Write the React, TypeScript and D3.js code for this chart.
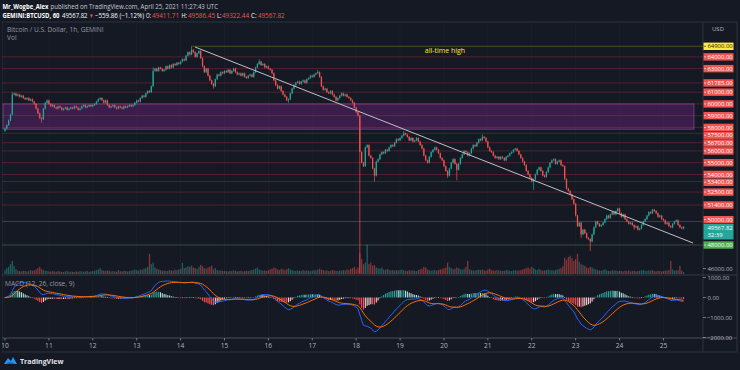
import React from "react";
import * as d3 from "d3";

const W = 740;
const H = 370;

// hourly closes, GEMINI:BTCUSD, from Apr 10 00:00 UTC to Apr 25 11:00 UTC
const closes: number[] = [
  57900, 58200, 58600, 59100, 60800, 60900, 60700, 60800, 60600, 60700, 60500, 60400,
  60500, 60300, 60400, 60200, 60000, 59600, 59200, 58800, 58700, 59600, 60100, 60300,
  60000, 59800, 59900, 59700, 59600, 59800, 59700, 59500, 59600, 59700, 59500, 59600,
  59700, 59600, 59800, 59700, 59500, 59600, 59800, 59900, 59700, 59800, 59900, 59800,
  59900, 60000, 60200, 60400, 60500, 60300, 60100, 60300, 59900, 59700, 59800, 59900,
  59700, 59600, 59800, 59700, 59600, 59800, 59700, 59800, 59900, 59800, 59900, 60100,
  60300, 60200, 60500, 60700, 60600, 60900, 61100, 61000, 61500, 62800, 63000, 62800,
  63100, 63000, 62800, 62900, 63200, 63000, 63300, 63100, 63400, 63300, 63500, 63400,
  63600, 63800, 63700, 64100, 64400, 64200, 64600, 64400, 64000, 64300, 64500, 63900,
  63200, 62700, 63000, 62400, 62000, 61700, 61500, 62100, 62500, 62400, 62700, 62600,
  62800, 62700, 62900, 62600, 62800, 63000, 62700, 62500, 62600, 62400, 62600, 62300,
  62200, 62400, 62500, 62300, 62700, 63100, 63400, 63600, 63300, 63400, 63100, 63200,
  63000, 62900, 62600, 62000, 61600, 61300, 61500, 61100, 60800, 60600, 60300, 60400,
  60900, 61300, 61600, 61800, 61900, 61700, 61900, 62000, 61800, 62100, 62200, 62400,
  62300, 62500, 62600, 62700, 62300, 61500, 61200, 61300, 61000, 60900, 61100, 60800,
  60600, 60300, 60500, 60700, 60900, 60700, 60800, 60600, 60500, 60300, 60100, 59700,
  59300, 59000, 55900, 55000, 54700, 56300, 56500, 55600, 55400, 54500, 53900, 55100,
  55300, 55700, 55900, 55800, 56100, 56000, 56300, 56500, 56400, 56700, 57000, 56900,
  57100, 57300, 57500, 57400, 57200, 56900, 57100, 56800, 56900, 57100, 56800, 56500,
  56200, 55600, 55200, 55000, 55500, 55900, 56100, 56300, 56100, 55800, 55400, 55200,
  54700, 54300, 53900, 54500, 55000, 55300, 54900, 54400, 54900, 55400, 55700, 56000,
  55900, 55600, 55800, 56200, 56500, 56400, 56700, 57000, 56900, 57200, 57100, 56800,
  56300, 56000, 55900, 55600, 55400, 55500, 55300, 55500, 55400, 55200, 55500, 55600,
  55800, 55900, 56100, 56200, 56000, 55700, 55400, 55100, 54800, 54300, 54000, 53700,
  53400, 53600, 54000, 54400, 54600, 54300, 53900, 53800, 54200, 54600, 55000, 55200,
  55300, 54900, 55100, 55200, 54800, 54700, 53600, 52800, 52600, 52300, 51900, 51500,
  50500, 49600, 49900, 48900, 49300, 49000, 48600, 48500, 48300, 48900, 49500, 50000,
  49800, 49600, 49700, 49900, 50200, 50500, 50300, 50600, 50800, 50600, 50900, 51100,
  50700, 50400, 50600, 50200, 50000, 49800, 49900, 49700, 49500, 49600, 49300, 49400,
  49700, 50000, 50200, 50500, 50800, 50700, 51000, 50900, 50700, 50400, 50500, 50200,
  50100, 49800, 49900, 49600, 49500, 49800, 50000, 50100, 49700, 49500, 49411.71, 49567.82,
];

const volumes: number[] = [
  12, 18, 22, 30, 40, 25, 14, 10, 9, 8, 10, 9, 8, 9, 12, 10, 11, 14, 18, 22, 15, 12, 10, 9,
  8, 7, 9, 8, 7, 9, 8, 7, 6, 8, 9, 7, 8, 7, 6, 8, 7, 9, 8, 7, 8, 9, 7, 8,
  9, 10, 12, 14, 18, 12, 10, 9, 11, 10, 8, 9, 8, 7, 12, 9, 8, 10, 9, 8, 9, 10, 12, 14,
  12, 10, 14, 13, 16, 18, 22, 62, 30, 35, 20, 16, 14, 12, 10, 11, 9, 10, 12, 11, 10, 13, 12, 14,
  16, 34, 18, 20, 24, 22, 26, 20, 18, 16, 22, 28, 24, 18, 16, 20, 22, 26, 14, 18, 12, 10, 11, 9,
  10, 9, 8, 10, 9, 11, 10, 8, 9, 10, 8, 9, 10, 9, 11, 12, 14, 16, 20, 14, 12, 10, 11, 9,
  12, 14, 16, 20, 18, 14, 12, 16, 14, 12, 15, 18, 14, 12, 10, 9, 11, 10, 9, 12, 10, 11, 10, 9,
  10, 12, 11, 14, 16, 13, 12, 10, 11, 9, 10, 12, 11, 10, 9, 11, 10, 12, 11, 14, 12, 16, 18, 22,
  14, 20, 65, 45, 30, 35, 90, 30, 35, 25, 28, 20, 18, 16, 20, 14, 12, 15, 13, 11, 12, 10, 12, 11,
  12, 14, 11, 10, 9, 12, 10, 11, 10, 9, 12, 14, 16, 22, 20, 14, 12, 10, 11, 12, 10, 12, 14, 16,
  18, 20, 35, 22, 18, 14, 16, 20, 18, 15, 14, 16, 22, 40, 14, 12, 11, 10, 12, 13, 12, 14, 11, 10,
  14, 16, 12, 11, 10, 12, 11, 10, 9, 10, 12, 11, 10, 9, 11, 12, 10, 11, 12, 14, 16, 18, 20, 16,
  22, 18, 14, 12, 16, 12, 10, 11, 12, 14, 11, 12, 10, 12, 14, 16, 18, 24, 50, 44, 52, 56, 48, 40,
  46, 62, 38, 30, 28, 25, 20, 18, 22, 20, 16, 14, 12, 11, 10, 12, 14, 11, 10, 9, 12, 10, 11, 9,
  10, 9, 8, 10, 9, 11, 8, 9, 10, 8, 9, 10, 11, 12, 10, 9, 11, 10, 12, 9, 8, 10, 9, 8,
  9, 10, 11, 12, 40, 14, 10, 12, 11, 25, 10, 6,
];

const firstOpen = 57700;
const lastHigh = 49586.45;
const lastLow = 49322.44;

const highOverrides: Record<number, number> = {
  4: 61000, 81: 63100, 102: 64900, 139: 63800, 171: 62900, 218: 57700, 261: 57400,
};
const lowOverrides: Record<number, number> = {
  20: 58400, 114: 61300, 155: 60100, 194: 45600, 202: 53400, 242: 53700,
  247: 53500, 289: 52700, 315: 48600, 320: 47500, 344: 49300,
};

const levels: number[] = [
  64900, 64000, 63000, 61785, 61000, 60000, 59000, 58000, 57500, 56700,
  56000, 55000, 54000, 53400, 52500, 51400, 50000, 48000,
];
const zone: [number, number] = [57850, 60000];
const athLevel = 64900;
const athStartHour = 102;
const trendline: [number, number][] = [[103.9, 64840], [376.2, 48170]];
const dayTicks: number[] = [10, 11, 12, 13, 14, 15, 16, 17, 18, 19, 20, 21, 22, 23, 24, 25];
const macdTicks: number[] = [1000, 0, -1000, -2000];
const lastPrice = 49567.82;
const countdown = "32:39";

// header pieces: text, left x, width, colour key, bold
const headerLine1: [string, number, number, string, boolean][] = [
  ["Mr_Wogbe_Alex", 2.5, 46, "w", true],
  ["published on TradingView.com, April 25, 2021 11:27:43 UTC", 50.5, 167.5, "g", false],
];
const headerLine2: [string, number, number, string, boolean][] = [
  ["GEMINI:BTCUSD, 60", 2.5, 57, "w", true],
  ["49567.82", 62, 25.5, "w", false],
  ["▼", 89, 4.5, "r", false],
  ["−559.86 (−1.12%)", 95, 49, "w", false],
  ["O:", 146, 5, "w", false],
  ["49411.71", 152, 27, "r", false],
  ["H:", 181.5, 5.5, "w", false],
  ["49586.45", 188, 27, "r", false],
  ["L:", 217, 4.5, "w", false],
  ["49322.44", 222, 27, "r", false],
  ["C:", 251, 5.5, "w", false],
  ["49567.82", 258, 26.5, "r", false],
];

// layout
const paneL = 2;
const paneR = 703;
const outerR = 737;
const mainTop = 22;
const mainBot = 275;
const macdBot = 338;
const axisBot = 352;

const BG = "#151924";
const UP = "#26a69a";
const DOWN = "#ef5350";
const FONT = "'Open Sans', 'Noto Sans', sans-serif";
const TXT = "#b2b5be";

function ema(vals: number[], period: number): number[] {
  const k = 2 / (period + 1);
  const out: number[] = [];
  vals.forEach((v, i) => {
    out.push(i === 0 ? v : v * k + out[i - 1] * (1 - k));
  });
  return out;
}

export default function App() {
  const n = closes.length;
  const x = d3.scaleLinear().domain([0, 372]).range([5, 5 + 372 * 1.829]);
  const y = d3.scaleLinear().domain([48000, 64900]).range([245, 46.3]);
  const yv = d3.scaleLinear().domain([0, 95]).range([274, 243]);
  const ym = d3.scaleLinear().domain([-2000, 1000]).range([337.5, 277.5]);
  const dayX = (d: number) => x((d - 10) * 24);

  const candles = closes.map((c, i) => {
    const o = i === 0 ? firstOpen : closes[i - 1];
    let h = highOverrides[i] ?? Math.max(o, c) + 70;
    let l = lowOverrides[i] ?? Math.min(o, c) - 70;
    if (i === n - 1) {
      h = lastHigh;
      l = lastLow;
    }
    return { o, h, l, c, i };
  });

  const e12 = ema(closes, 12);
  const e26 = ema(closes, 26);
  const macd = closes.map((_, i) => e12[i] - e26[i]);
  const signal = ema(macd, 9);
  const hist = macd.map((m, i) => m - signal[i]);

  const macdLine = d3.line<number>().x((_, i) => x(i)).y((d) => ym(d))(macd) || "";
  const sigLine = d3.line<number>().x((_, i) => x(i)).y((d) => ym(d))(signal) || "";

  const histColor = (i: number) => {
    const v = hist[i];
    const p = i > 0 ? hist[i - 1] : 0;
    if (v >= 0) return v > p ? "#26a69a" : "#b2dfdb";
    return v < p ? "#ff5252" : "#ffcdd2";
  };

  const levelColor = (p: number) => {
    if (p === 64900) return "#4f4d27";
    if (p === 48000) return "#3a4a3d";
    if (p === 50000) return "#3d404b";
    return "rgba(242,54,69,0.28)";
  };
  const labelFill = (p: number) => (p === 64900 ? "#ffeb3b" : p === 48000 ? "#4caf50" : "#f05350");
  const labelText = (p: number) => (p === 64900 ? "#131722" : "#ffffff");

  const curTop = y(lastPrice) - 2.6;
  const curH = 15.5;
  const boxH = 7.4;
  const gap = 7.8;
  // label centres, pushed apart so that the boxes don't collide
  const labelPos: Record<number, number> = {};
  let prev = -Infinity;
  levels.forEach((p) => {
    let cy = Math.max(y(p), prev + gap);
    if (cy + boxH / 2 > curTop && cy - boxH / 2 < curTop + curH) cy = curTop - boxH / 2 - 0.6;
    labelPos[p] = cy;
    prev = cy;
  });
  const hdrColor = (k: string) => (k === "r" ? DOWN : k === "g" ? "#c8cbd3" : "#ffffff");

  return (
    <div style={{ position: "absolute", left: 0, top: 0, width: W, height: H }}>
      <svg width={W} height={H} style={{ display: "block", fontFamily: FONT }}>
        <defs>
          <clipPath id="mainClip">
            <rect x={paneL} y={mainTop} width={paneR - paneL} height={mainBot - mainTop} />
          </clipPath>
          <clipPath id="macdClip">
            <rect x={paneL} y={mainBot} width={paneR - paneL} height={macdBot - mainBot} />
          </clipPath>
        </defs>
        <rect x={0} y={0} width={W} height={H} fill={BG} />

        {/* header */}
        {headerLine1.map(([t, hx, hw, k, b], i) => (
          <text key={"h1" + i} x={hx} y={9} fontSize={6.2} fill={hdrColor(k)} fontWeight={b ? "bold" : "normal"}
            textLength={hw} lengthAdjust="spacingAndGlyphs">{t}</text>
        ))}
        {headerLine2.map(([t, hx, hw, k, b], i) => (
          <text key={"h2" + i} x={hx} y={18} fontSize={6.2} fill={hdrColor(k)} fontWeight={b ? "bold" : "normal"}
            textLength={hw} lengthAdjust="spacingAndGlyphs">{t}</text>
        ))}

        {/* frame */}
        <rect x={paneL} y={mainTop} width={outerR - paneL} height={axisBot - mainTop} fill="none" stroke="#2e323e" strokeWidth={1} />
        <line x1={paneR} x2={paneR} y1={mainTop} y2={axisBot} stroke="#2e323e" />
        <line x1={paneL} x2={outerR} y1={mainBot} y2={mainBot} stroke="#363a45" />
        <line x1={paneL} x2={outerR} y1={macdBot} y2={macdBot} stroke="#4a4e5a" />

        {/* vertical grid */}
        {dayTicks.map((d) => (
          <line key={"g" + d} x1={dayX(d)} x2={dayX(d)} y1={mainTop} y2={macdBot} stroke="#1b1f2a" />
        ))}

        <g clipPath="url(#mainClip)">
          {/* zone */}
          <rect x={3} y={y(zone[1])} width={691} height={y(zone[0]) - y(zone[1])}
            fill="rgba(156,39,176,0.28)" stroke="rgba(186,104,200,0.45)" strokeWidth={1} />
          {/* level lines */}
          {levels.map((p) => (
            <line key={"l" + p} x1={p === athLevel ? x(athStartHour) : paneL} x2={paneR}
              y1={y(p)} y2={y(p)} stroke={levelColor(p)} strokeWidth={1} />
          ))}
          {/* volume */}
          {volumes.map((v, i) => {
            const c = candles[i];
            return (
              <rect key={"v" + i} x={x(i) - 0.65} y={yv(v)} width={1.3} height={yv(0) - yv(v)}
                fill={c.c >= c.o ? "rgba(38,166,154,0.5)" : "rgba(239,83,80,0.5)"} />
            );
          })}
          {/* candles */}
          {candles.map((c) => {
            const col = c.c >= c.o ? UP : DOWN;
            const top = y(Math.max(c.o, c.c));
            const bh = Math.max(0.8, y(Math.min(c.o, c.c)) - top);
            return (
              <g key={"c" + c.i}>
                <line x1={x(c.i)} x2={x(c.i)} y1={y(c.h)} y2={y(c.l)} stroke={col} strokeWidth={0.7} />
                <rect x={x(c.i) - 0.65} y={top} width={1.3} height={bh} fill={col} />
              </g>
            );
          })}
          {/* trend line */}
          <line x1={x(trendline[0][0])} y1={y(trendline[0][1])} x2={x(trendline[1][0])} y2={y(trendline[1][1])}
            stroke="#bfc0c6" strokeWidth={1} />
          <text x={445} y={y(athLevel) + 6.5} fontSize={7} fill="#ffeb3b" textAnchor="middle">all-time high</text>
        </g>

        <text x={7} y={32} fontSize={6.6} fill="#9598a1">Bitcoin / U.S. Dollar, 1h, GEMINI</text>
        <text x={7} y={40} fontSize={6.6} fill="#9598a1">Vol</text>

        {/* MACD pane */}
        <g clipPath="url(#macdClip)">
          {hist.map((v, i) => (
            <rect key={"h" + i} x={x(i) - 0.55} y={Math.min(ym(0), ym(v))} width={1.1}
              height={Math.max(0.6, Math.abs(ym(v) - ym(0)))} fill={histColor(i)} />
          ))}
          <path d={macdLine} fill="none" stroke="#2962ff" strokeWidth={1} />
          <path d={sigLine} fill="none" stroke="#ff6d00" strokeWidth={1} />
        </g>
        <text x={5} y={285.5} fontSize={6.6} fill="#9598a1">MACD (12, 26, close, 9)</text>

        {/* price axis labels */}
        <text x={718} y={31} fontSize={6} fill={TXT} textAnchor="middle">USD</text>
        {levels.map((p) => {
          const cy = labelPos[p];
          return (
            <g key={"pl" + p}>
              <rect x={paneR + 0.5} y={cy - boxH / 2} width={30} height={boxH} fill={labelFill(p)} />
              <line x1={paneR + 1} x2={paneR + 3} y1={cy} y2={cy} stroke={labelText(p)} strokeWidth={0.6} />
              <text x={paneR + 4.5} y={cy + 2.1} fontSize={5.9} fill={labelText(p)}>{d3.format(".2f")(p)}</text>
            </g>
          );
        })}
        <rect x={paneR + 0.5} y={curTop} width={30} height={curH} fill={UP} />
        <text x={paneR + 4.5} y={curTop + 6.2} fontSize={5.9} fill="#ffffff">{d3.format(".2f")(lastPrice)}</text>
        <text x={paneR + 4.5} y={curTop + 13.3} fontSize={5.9} fill="#ffffff">{countdown}</text>
        <text x={paneR + 4.5} y={y(46000) + 2.1} fontSize={5.9} fill={TXT}>{d3.format(".2f")(46000)}</text>
        <line x1={paneR} x2={paneR + 3} y1={y(46000)} y2={y(46000)} stroke={TXT} strokeWidth={0.6} />

        {macdTicks.map((t) => (
          <g key={"mt" + t}>
            <line x1={paneR} x2={paneR + 3} y1={ym(t)} y2={ym(t)} stroke={TXT} strokeWidth={0.6} />
            <text x={paneR + (t < 0 ? 4 : 4.5)} y={ym(t) + 2.1} fontSize={5.9} fill={TXT}>
              {t < 0 ? "−" + d3.format(".2f")(-t) : d3.format(".2f")(t)}
            </text>
          </g>
        ))}

        {/* time axis */}
        {dayTicks.map((d) => (
          <g key={"t" + d}>
            <line x1={dayX(d)} x2={dayX(d)} y1={macdBot} y2={macdBot + 2.5} stroke={TXT} strokeWidth={0.6} />
            <text x={dayX(d)} y={347.5} fontSize={6.6} fill={TXT} textAnchor="middle">{d}</text>
          </g>
        ))}
        <rect x={0} y={mainTop} width={paneL} height={axisBot - mainTop} fill={BG} />

        {/* logo */}
        <g transform="translate(4,356)">
          <path d="M0,8 L4,2 L7,5 L9,1 L13,8 Z" fill="#2196f3" />
          <path d="M2,8 Q6,4 11,8 Z" fill="#0d47a1" opacity={0.6} />
        </g>
        <text x={20} y={363.5} fontSize={7} fill="#e0e3eb" fontWeight="bold">TradingView</text>
      </svg>
    </div>
  );
}
